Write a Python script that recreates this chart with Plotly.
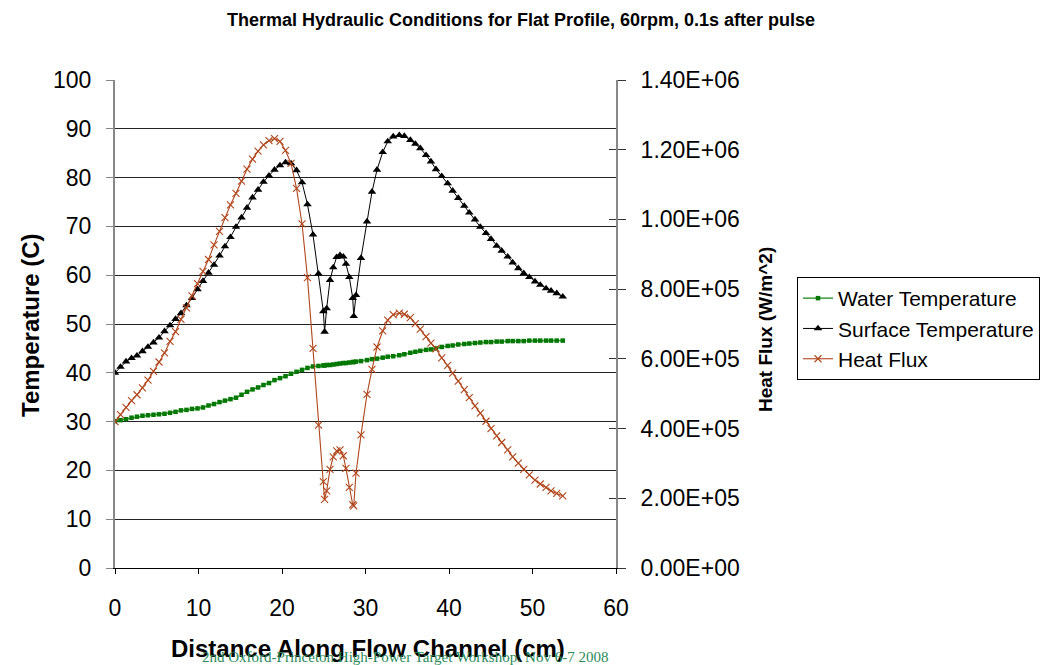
import plotly.graph_objects as go

# Distance along flow channel (cm)
distance_cm = [
    0.00, 0.66, 1.32, 1.98, 2.63, 3.29, 3.95, 4.61, 5.27, 5.93,
    6.59, 7.25, 7.90, 8.56, 9.22, 9.88, 10.54, 11.20, 11.86, 12.52,
    13.17, 13.83, 14.49, 15.15, 15.81, 16.47, 17.13, 17.78, 18.44, 19.10,
    19.76, 20.42, 21.08, 21.74, 22.40, 23.05, 23.71, 24.37, 24.95,
    25.10, 25.35, 25.75, 26.14, 26.55, 26.95, 27.34, 27.66, 28.06, 28.47, 28.59, 28.86,
    29.46, 30.18, 30.78, 31.38, 32.06, 32.66, 33.32, 34.05, 34.65, 35.37,
    35.97, 36.56, 37.25, 37.84, 38.44, 39.13, 39.84, 40.44, 41.11, 41.83,
    42.43, 43.11, 43.75, 44.43, 45.03, 45.71, 46.31, 47.03, 47.63, 48.30,
    48.95, 49.62, 50.30, 50.93, 51.62, 52.22, 52.90, 53.62,
]

# Water temperature (C)
water_temp = [
    30.1, 30.3, 30.5, 30.8, 31.0, 31.2, 31.3, 31.4, 31.5, 31.6,
    31.8, 32.0, 32.3, 32.4, 32.6, 32.7, 32.9, 33.3, 33.6, 34.0,
    34.3, 34.6, 34.9, 35.5, 36.1, 36.6, 37.0, 37.5, 37.9, 38.5,
    38.9, 39.3, 39.8, 40.2, 40.6, 41.0, 41.3, 41.4, 41.5,
    41.5, 41.6, 41.6, 41.7, 41.8, 41.9, 42.0, 42.0, 42.1, 42.2, 42.2, 42.3,
    42.4, 42.6, 42.8, 42.9, 43.1, 43.3, 43.4, 43.6, 43.8, 44.1,
    44.3, 44.5, 44.7, 44.8, 45.0, 45.3, 45.5, 45.6, 45.8, 45.9,
    46.0, 46.1, 46.2, 46.3, 46.3, 46.4, 46.4, 46.5, 46.5, 46.5,
    46.5, 46.6, 46.6, 46.6, 46.6, 46.6, 46.6, 46.6,
]

# Surface temperature (C)
surface_temp = [
    40.0, 41.2, 42.3, 43.0, 43.5, 44.4, 45.3, 46.2, 47.2, 48.5,
    49.7, 51.0, 52.2, 53.8, 55.3, 57.1, 58.8, 60.5, 62.1, 64.0,
    65.9, 67.8, 69.9, 71.8, 73.8, 75.9, 77.5, 79.1, 80.4, 81.6,
    82.5, 83.1, 82.9, 81.5, 79.0, 74.5, 68.3, 60.3, 52.6,
    48.4, 53.2, 59.0, 61.6, 63.7, 64.1, 63.8, 62.3, 59.6, 55.3, 51.6, 55.9,
    63.5, 71.0, 77.1, 81.6, 85.2, 87.4, 88.4, 88.7, 88.5, 87.7,
    86.9, 86.0, 84.6, 83.3, 81.7, 80.3, 78.8, 77.3, 75.8, 74.2,
    72.8, 71.4, 69.9, 68.6, 67.4, 66.0, 65.0, 63.8, 62.6, 61.4,
    60.4, 59.6, 58.7, 58.0, 57.3, 56.8, 56.3, 55.6,
]

# Heat flux (W/m^2)
heat_flux = [
    420000, 440000, 461000, 480000, 497000, 517000, 539000, 564000, 591000, 617000,
    650000, 678000, 713000, 746000, 781000, 816000, 851000, 885000, 927000, 966000,
    1005000, 1042000, 1075000, 1110000, 1144000, 1173000, 1196000, 1214000, 1226000, 1232000,
    1224000, 1198000, 1161000, 1089000, 987000, 833000, 630000, 410000, 248000,
    197000, 221000, 283000, 319000, 336000, 339000, 322000, 286000, 231000, 182000, 178000, 272000,
    382000, 498000, 570000, 634000, 680000, 711000, 727000, 731000, 728000, 718000,
    701000, 685000, 664000, 645000, 629000, 603000, 581000, 559000, 536000, 512000,
    489000, 465000, 444000, 421000, 400000, 379000, 360000, 339000, 319000, 301000,
    283000, 267000, 252000, 241000, 231000, 221000, 214000, 207000,
]

x_ticks = [0, 10, 20, 30, 40, 50, 60]
temp_ticks = [0, 10, 20, 30, 40, 50, 60, 70, 80, 90, 100]
flux_tickvals = [0, 200000, 400000, 600000, 800000, 1000000, 1200000, 1400000]
flux_ticktext = ["0.00E+00", "2.00E+05", "4.00E+05", "6.00E+05",
                 "8.00E+05", "1.00E+06", "1.20E+06", "1.40E+06"]

series_names = ["Water Temperature", "Surface Temperature", "Heat Flux"]
title_text = "Thermal Hydraulic Conditions for Flat Profile, 60rpm, 0.1s after pulse"
x_title = "Distance Along Flow Channel (cm)"
y_title = "Temperature (C)"
y2_title = "Heat Flux (W/m^2)"
footer = "2nd Oxford-Princeton High-Power Target Workshop: Nov 6-7 2008"

FONT = "Liberation Sans, Arial, sans-serif"
FLUX_COLOR = "#B0461C"

fig = go.Figure()
fig.add_trace(go.Scatter(
    x=distance_cm, y=water_temp, name=series_names[0], mode="lines+markers",
    line=dict(color="#3a9a3a", width=1.5),
    marker=dict(symbol="square", size=4.5, color="#007800"),
    yaxis="y",
))
fig.add_trace(go.Scatter(
    x=distance_cm, y=surface_temp, name=series_names[1], mode="lines+markers",
    line=dict(color="black", width=1),
    marker=dict(symbol="triangle-up", size=7.5, color="black"),
    yaxis="y",
))
fig.add_trace(go.Scatter(
    x=distance_cm, y=heat_flux, name=series_names[2], mode="lines+markers",
    line=dict(color=FLUX_COLOR, width=1.1),
    marker=dict(symbol="x-thin", size=7, color=FLUX_COLOR,
                line=dict(color=FLUX_COLOR, width=1.1)),
    yaxis="y2",
))

fig.update_layout(
    width=1043, height=665,
    margin=dict(l=115, r=427, t=80, b=97, autoexpand=False),
    paper_bgcolor="white", plot_bgcolor="white",
    font=dict(family=FONT, color="black"),
    showlegend=True,
    title=dict(
        text="<b>" + title_text + "</b>",
        x=521 / 1043, xanchor="center", xref="container",
        y=1 - 20 / 665, yref="container", yanchor="middle",
        font=dict(family="Liberation Sans Narrow, Arial Narrow, Liberation Sans, Arial", size=18, color="black"),
    ),
    xaxis=dict(
        range=[0, 60], tickvals=x_ticks, showgrid=False, zeroline=False,
        showline=True, linecolor="black", linewidth=1,
        ticks="outside", ticklen=5, tickcolor="black",
        tickfont=dict(size=23, family=FONT), ticklabelstandoff=14,
    ),
    yaxis=dict(
        range=[0, 100], tickvals=temp_ticks, showgrid=True, gridcolor="#222222", gridwidth=1,
        zeroline=False, showline=True, linecolor="#888888", linewidth=2,
        ticks="outside", ticklen=7, tickcolor="#888888",
        tickfont=dict(size=23, family=FONT), ticklabelstandoff=10,
    ),
    yaxis2=dict(
        range=[0, 1400000], tickvals=flux_tickvals, ticktext=flux_ticktext,
        overlaying="y", side="right", showgrid=False, zeroline=False,
        showline=True, linecolor="#888888", linewidth=2,
        ticks="outside", ticklen=8, tickcolor="#333333",
        tickfont=dict(size=23, family=FONT), ticklabelstandoff=10,
    ),
    yaxis3=dict(
        range=[0, 1400000], tickvals=flux_tickvals, overlaying="y", side="right",
        showgrid=False, zeroline=False, showline=False, showticklabels=False,
        ticks="inside", ticklen=7, tickcolor="#333333",
    ),
    legend=dict(
        x=(797 - 115) / 501, xanchor="left", y=(568 - 277) / 488, yanchor="top",
        bordercolor="black", borderwidth=1, bgcolor="white",
        font=dict(size=21, family=FONT), tracegroupgap=0,
    ),
)

# axis titles and footer
fig.add_annotation(text="<b>" + x_title + "</b>", xref="paper", yref="paper",
                   x=(368 - 115) / 501, y=(568 - 648) / 488, showarrow=False,
                   xanchor="center", yanchor="middle", font=dict(size=24, family=FONT))
fig.add_annotation(text="<b>" + y_title + "</b>", xref="paper", yref="paper",
                   x=(30 - 115) / 501, y=(568 - 325) / 488, showarrow=False, textangle=-90,
                   xanchor="center", yanchor="middle", font=dict(size=24, family=FONT))
fig.add_annotation(text="<b>" + y2_title + "</b>", xref="paper", yref="paper",
                   x=(765 - 115) / 501, y=(568 - 330) / 488, showarrow=False, textangle=-90,
                   xanchor="center", yanchor="middle", font=dict(size=19, family=FONT))
fig.add_annotation(text=footer, xref="paper", yref="paper",
                   x=(405 - 115) / 501, y=(568 - 657) / 488, showarrow=False,
                   xanchor="center", yanchor="middle",
                   font=dict(size=15, family="Liberation Serif, Times New Roman, serif", color="#2a8a5a"))

# dummy trace to activate yaxis3 for crossing tick marks
fig.add_trace(go.Scatter(x=[None], y=[None], yaxis="y3", showlegend=False, hoverinfo="skip"))

fig.write_html("out.html")
